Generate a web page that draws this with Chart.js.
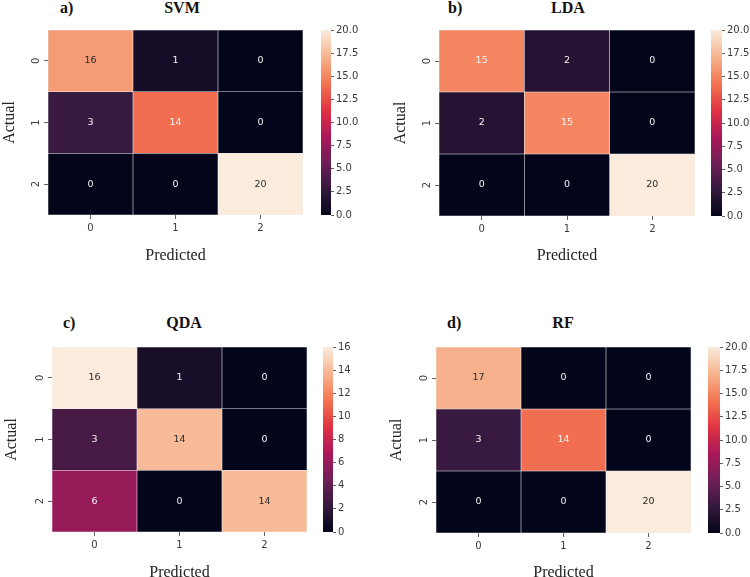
<!DOCTYPE html>
<html><head><meta charset="utf-8">
<script src="https://cdn.jsdelivr.net/npm/chart.js@4"></script>
<style>
html,body{margin:0;padding:0;background:#fff;width:750px;height:577px;overflow:hidden;position:relative;}
canvas{position:absolute;}
.hd{position:absolute;font-family:"Liberation Serif","Times New Roman",serif;font-weight:bold;font-size:16px;line-height:16px;color:#111;white-space:nowrap;}
</style></head><body>
<script>
// ---------- data ----------
const panelLetters = ['a)', 'b)', 'c)', 'd)'];
const modelNames = ['SVM', 'LDA', 'QDA', 'RF'];
const predictedLabels = ['0', '1', '2'];
const actualLabels = ['0', '1', '2'];
const svmMatrix = [[16, 1, 0], [3, 14, 0], [0, 0, 20]];
const ldaMatrix = [[15, 2, 0], [2, 15, 0], [0, 0, 20]];
const qdaMatrix = [[16, 1, 0], [3, 14, 0], [6, 0, 14]];
const rfMatrix = [[17, 0, 0], [3, 14, 0], [0, 0, 20]];
const cbTicks20 = [0, 2.5, 5, 7.5, 10, 12.5, 15, 17.5, 20];
const cbLabels20 = ['0.0', '2.5', '5.0', '7.5', '10.0', '12.5', '15.0', '17.5', '20.0'];
const cbTicks16 = [0, 2, 4, 6, 8, 10, 12, 14, 16];
const cbLabels16 = ['0', '2', '4', '6', '8', '10', '12', '14', '16'];

// ---------- layout / style ----------
const panels = [
  {m: svmMatrix, ticks: cbTicks20, labels: cbLabels20, cl: 0,   hl: 48,  hr: 303, ht: 30,  hb: 215, xt: 255, cbl: 321, cbr: 331, lx: 60,  tx: 182, ty: 0},
  {m: ldaMatrix, ticks: cbTicks20, labels: cbLabels20, cl: 391, hl: 439, hr: 695, ht: 30,  hb: 216, xt: 255, cbl: 711, cbr: 722, lx: 448, tx: 568, ty: 0},
  {m: qdaMatrix, ticks: cbTicks16, labels: cbLabels16, cl: 2,   hl: 52,  hr: 307, ht: 347, hb: 532, xt: 572, cbl: 323, cbr: 333, lx: 63,  tx: 184, ty: 315},
  {m: rfMatrix,  ticks: cbTicks20, labels: cbLabels20, cl: 387, hl: 436, hr: 691, ht: 347, hb: 533, xt: 572, cbl: 708, cbr: 720, lx: 447, tx: 563, ty: 315}
];
const rocketStops = [[0, '#03051A'], [1/7, '#35193E'], [2/7, '#701F57'], [3/7, '#AD1759'], [4/7, '#E13342'], [5/7, '#F37651'], [6/7, '#F6B48F'], [1, '#FAEBDD']];
const TICK_FONT = {family: '"DejaVu Sans", sans-serif', size: 10};
const TITLE_FONT = {family: '"Liberation Serif", "Times New Roman", serif', size: 16};
const TICK_COLOR = '#3a3a3a';

function hexRgb(h) { return [parseInt(h.slice(1,3),16), parseInt(h.slice(3,5),16), parseInt(h.slice(5,7),16)]; }
function rocket(t) {
  t = Math.max(0, Math.min(1, t));
  for (let i = 1; i < rocketStops.length; i++) {
    if (t <= rocketStops[i][0]) {
      const [p0, c0] = rocketStops[i-1], [p1, c1] = rocketStops[i];
      const f = (t - p0) / (p1 - p0), a = hexRgb(c0), b = hexRgb(c1);
      return [0,1,2].map(k => Math.round(a[k] + (b[k]-a[k]) * f));
    }
  }
  return hexRgb(rocketStops[rocketStops.length-1][1]);
}
function rgbStr(c) { return 'rgb(' + c.join(',') + ')'; }
function lum(c) {
  const l = c.map(v => { v /= 255; return v <= 0.03928 ? v/12.92 : Math.pow((v+0.055)/1.055, 2.4); });
  return 0.2126*l[0] + 0.7152*l[1] + 0.0722*l[2];
}

function mkCanvas(left, top, w, h) {
  const c = document.createElement('canvas');
  c.width = w; c.height = h;
  c.style.left = left + 'px'; c.style.top = top + 'px';
  c.style.width = w + 'px'; c.style.height = h + 'px';
  document.body.appendChild(c);
  return c;
}
function mkHeader(text, x, y, center) {
  const d = document.createElement('div');
  d.className = 'hd'; d.textContent = text;
  d.style.left = x + 'px'; d.style.top = y + 'px';
  if (center) d.style.transform = 'translateX(-50%)';
  document.body.appendChild(d);
}

const annotPlugin = {
  id: 'annot',
  afterDatasetsDraw(chart) {
    const ctx = chart.ctx;
    ctx.save();
    ctx.font = '9.5px "DejaVu Sans", sans-serif';
    ctx.textAlign = 'center'; ctx.textBaseline = 'middle';
    chart.data.datasets.forEach((ds, i) => {
      chart.getDatasetMeta(i).data.forEach((el, j) => {
        const p = el.getProps(['x', 'y', 'base'], true);
        ctx.fillStyle = ds.textColors[j];
        ctx.fillText(String(ds.values[j]), p.x, (p.y + p.base) / 2);
      });
    });
    ctx.restore();
  }
};

Chart.defaults.animation = false;
Chart.defaults.responsive = false;

panels.forEach((P, pi) => {
  mkHeader(panelLetters[pi], P.lx, P.ty, false);
  mkHeader(modelNames[pi], P.tx, P.ty, true);
  const vmax = Math.max(...P.m.flat());

  // heatmap
  const top = P.ht - 10;
  const bottom = Math.round(P.xt + 9.6);
  const W = P.hr + 10 - P.cl, H = bottom - top;
  const cv = mkCanvas(P.cl, top, W, H);
  const datasets = P.m.map((row, r) => {
    const cols = row.map(v => rocket(v / vmax));
    return {
      data: row.map(() => [r, r + 1]),
      values: row,
      backgroundColor: cols.map(rgbStr),
      textColors: cols.map(c => lum(c) > 0.408 ? '#2a2a2a' : '#f4f4f4'),
      borderColor: 'rgba(215,215,220,0.3)',
      borderWidth: 0.6,
      borderSkipped: false,
      grouped: false,
      barPercentage: 1,
      categoryPercentage: 1
    };
  });
  new Chart(cv, {
    type: 'bar',
    data: {labels: predictedLabels, datasets},
    plugins: [annotPlugin],
    options: {
      layout: {padding: {top: 10, right: 10, left: 0, bottom: 0}},
      plugins: {legend: {display: false}, tooltip: {enabled: false}},
      scales: {
        x: {
          type: 'category', position: 'bottom',
          grid: {display: true, offset: false, drawOnChartArea: false, drawTicks: true, tickLength: 4, color: TICK_COLOR, lineWidth: 0.8},
          border: {display: false},
          ticks: {font: TICK_FONT, color: TICK_COLOR, padding: 3, maxRotation: 0},
          title: {display: true, text: 'Predicted', font: TITLE_FONT, color: '#222', padding: {top: 0, bottom: 0}},
          afterFit: s => { s.height = bottom - P.hb; }
        },
        y: {
          type: 'linear', position: 'left', min: 0, max: 3, reverse: true,
          afterBuildTicks: s => { s.ticks = actualLabels.map((_, i) => ({value: i + 0.5})); },
          grid: {display: true, drawOnChartArea: false, drawTicks: true, tickLength: 4, color: TICK_COLOR, lineWidth: 0.8},
          border: {display: false},
          ticks: {font: TICK_FONT, color: TICK_COLOR, padding: 4, minRotation: 90, maxRotation: 90, crossAlign: 'center',
                  callback: (v, i) => actualLabels[i]},
          title: {display: true, text: 'Actual', font: TITLE_FONT, color: '#222', padding: {top: 0, bottom: 0}},
          afterFit: s => { s.width = P.hl - P.cl; }
        }
      }
    }
  });

  // colorbar
  const cbW = P.cbr - P.cbl;
  const cv2 = mkCanvas(P.cbl - 2, top, cbW + 2 + 45, P.hb - P.ht + 20);
  new Chart(cv2, {
    type: 'bar',
    data: {labels: [''], datasets: [{
      data: [[0, vmax]],
      backgroundColor: (c) => {
        const a = c.chart.chartArea;
        if (!a) return '#000';
        const g = c.chart.ctx.createLinearGradient(0, a.bottom, 0, a.top);
        rocketStops.forEach(([p, col]) => g.addColorStop(p, col));
        return g;
      },
      borderWidth: 0, barPercentage: 1, categoryPercentage: 1
    }]},
    options: {
      layout: {padding: {top: 10, bottom: 10, left: 2, right: 0}},
      plugins: {legend: {display: false}, tooltip: {enabled: false}},
      scales: {
        x: {display: false},
        y: {
          position: 'right', min: 0, max: vmax,
          afterBuildTicks: s => { s.ticks = P.ticks.map(v => ({value: v})); },
          grid: {display: true, drawOnChartArea: false, drawTicks: true, tickLength: 3, color: TICK_COLOR, lineWidth: 0.8},
          border: {display: false},
          ticks: {font: TICK_FONT, color: TICK_COLOR, padding: 2, callback: (v, i) => P.labels[i]},
          afterFit: s => { s.width = 45; }
        }
      }
    }
  });
});
</script>
</body></html>
